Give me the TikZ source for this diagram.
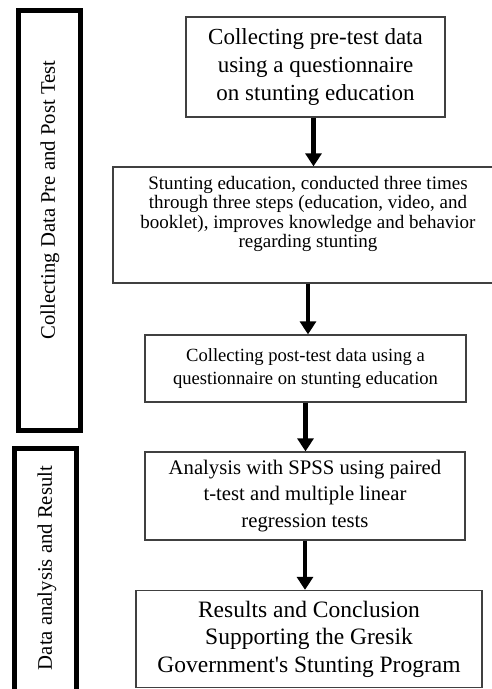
\documentclass[tikz,border=0pt]{standalone}
\usepackage{fontspec}
\setmainfont{Liberation Serif}
\usetikzlibrary{arrows.meta}

\begin{document}
\begin{tikzpicture}[x=1pt, y=-1pt,
  stagebox/.style={draw=black!75, line width=1.3pt, align=center, inner sep=0pt},
  phasebox/.style={draw=black, line width=5pt, inner sep=0pt},
  flow/.style={line width=4.5pt, -{Triangle[width=16pt,length=13pt]}}]

\useasboundingbox (0,0) rectangle (491,689);

% phase boxes on the left
{
\node[phasebox, minimum width=62, minimum height=420] (collect) at (49.5,220.5) {};
\node[rotate=90, font=\fontsize{20.7}{24}\selectfont] (collecttext) at (50,200) {Collecting Data Pre and Post Test};

\node[phasebox, minimum width=62, minimum height=252] (analysis) at (45.5,574.5) {};
\node[rotate=90, font=\fontsize{20.7}{24}\selectfont] (analysistext) at (47,568) {Data analysis and Result};
}

% steps
{
\node[stagebox, minimum width=259, minimum height=100, font=\fontsize{23}{28}\selectfont] (pre) at (315.5,67)
{Collecting pre-test data\\ using a questionnaire\\ on stunting education};

\node[stagebox, minimum width=400, minimum height=116] (edu) at (313,225) {};
\node[align=center, font=\fontsize{19}{19.3}\selectfont] (edutext) at (308,214)
{Stunting education, conducted three times\\ through three steps (education, video, and\\ booklet), improves knowledge and behavior\\ regarding stunting};

\node[stagebox, minimum width=321, minimum height=67, font=\fontsize{18.6}{22.7}\selectfont] (post) at (305.5,368.5)
{Collecting post-test data using a\\ questionnaire on stunting education};

\node[stagebox, minimum width=320, minimum height=88, font=\fontsize{20.7}{26.7}\selectfont] (spss) at (305,496)
{Analysis with SPSS using paired\\ t-test and multiple linear\\ regression tests};

\node[stagebox, minimum width=346, minimum height=97, font=\fontsize{23.5}{27.5}\selectfont] (res) at (309,639)
{Results and Conclusion\\ Supporting the Gresik\\ Government\textquotesingle s Stunting Program};
}

% arrows
\draw[flow] ([xshift=-2]pre.south) -- ([xshift=-2]pre.south |- edu.north);
\draw[flow] (edutext.south |- edu.south) -- (edutext.south |- post.north);
\draw[flow] (post.south) -- (post.south |- spss.north);
\draw[flow] (spss.south) -- (spss.south |- res.north);

\end{tikzpicture}
\end{document}
